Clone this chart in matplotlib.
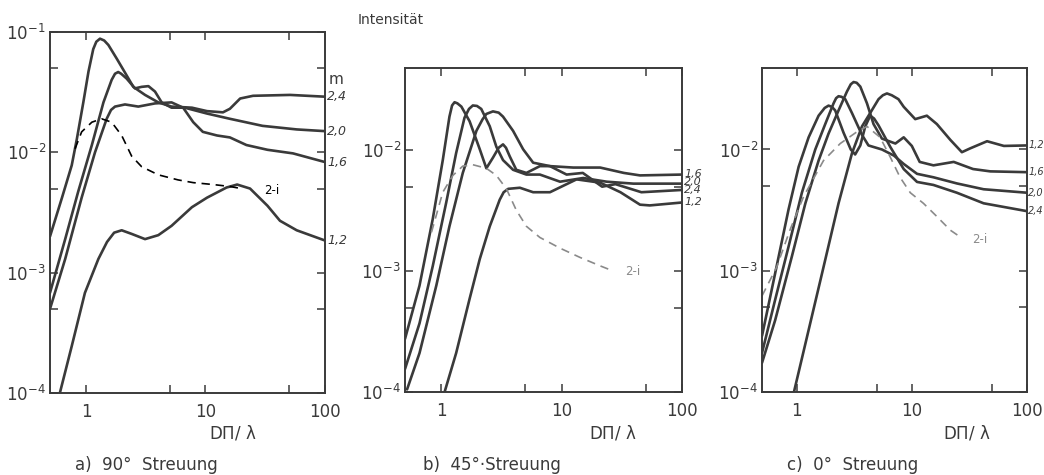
import numpy as np
import matplotlib
matplotlib.use("Agg")
import matplotlib.pyplot as plt
import matplotlib.transforms as mtransforms
from matplotlib.ticker import FixedLocator, NullFormatter

plt.rcParams['font.family'] = ['DejaVu Sans']
plt.rcParams['mathtext.default'] = 'regular'

# ---------------- a) 90 deg ----------------
a_x_24 = [0.5, 0.63, 0.76, 0.84, 0.95, 1.05, 1.15, 1.22, 1.31, 1.42, 1.54, 1.81, 2.12, 2.49, 3.12, 4.03, 5.2, 7.7, 10.3, 14, 16, 19.5, 25, 51, 100]
a_y_24 = [2.0e-3, 4.2e-3, 7.8e-3, 1.3e-2, 2.6e-2, 4.7e-2, 7.2e-2, 8.3e-2, 8.8e-2, 8.5e-2, 7.8e-2, 6.0e-2, 4.6e-2, 3.5e-2, 3.0e-2, 2.6e-2, 2.4e-2, 2.35e-2, 2.2e-2, 2.15e-2, 2.3e-2, 2.8e-2, 2.95e-2, 3.0e-2, 2.9e-2]
a_x_20 = [0.5, 0.67, 0.86, 1.12, 1.40, 1.64, 1.75, 1.86, 1.97, 2.19, 2.57, 2.92, 3.33, 3.78, 4.3, 5.2, 6.7, 10.3, 16, 30, 58, 100]
a_y_20 = [6.8e-4, 1.9e-3, 4.7e-3, 1.15e-2, 2.6e-2, 4.0e-2, 4.5e-2, 4.65e-2, 4.5e-2, 4.1e-2, 3.4e-2, 3.5e-2, 3.55e-2, 3.2e-2, 2.6e-2, 2.35e-2, 2.35e-2, 2.1e-2, 1.9e-2, 1.66e-2, 1.55e-2, 1.5e-2]
a_x_16 = [0.5, 0.67, 0.92, 1.19, 1.49, 1.62, 1.75, 2.12, 2.74, 3.78, 5.2, 6.5, 7.9, 9.5, 12.5, 16, 22, 33, 54, 100]
a_y_16 = [5.0e-4, 1.3e-3, 4.2e-3, 1.0e-2, 1.9e-2, 2.25e-2, 2.4e-2, 2.5e-2, 2.4e-2, 2.55e-2, 2.6e-2, 2.35e-2, 1.78e-2, 1.48e-2, 1.38e-2, 1.33e-2, 1.15e-2, 1.05e-2, 9.8e-3, 8.3e-3]
a_x_12 = [0.58, 0.76, 0.98, 1.27, 1.5, 1.72, 1.99, 2.41, 3.12, 4.03, 5.2, 7.7, 10.3, 15, 18.4, 23.6, 33, 42, 58, 100]
a_y_12 = [8.5e-5, 2.45e-4, 6.8e-4, 1.3e-3, 1.8e-3, 2.15e-3, 2.25e-3, 2.1e-3, 1.9e-3, 2.05e-3, 2.45e-3, 3.5e-3, 4.2e-3, 5.1e-3, 5.4e-3, 5.0e-3, 3.6e-3, 2.7e-3, 2.25e-3, 1.85e-3]
a_x_2i = [0.81, 0.92, 1.12, 1.35, 1.64, 1.99, 2.41, 2.92, 4.03, 5.9, 7.9, 11.6, 16, 20]
a_y_2i = [1.07e-2, 1.48e-2, 1.78e-2, 1.9e-2, 1.78e-2, 1.38e-2, 9.3e-3, 7.6e-3, 6.5e-3, 5.9e-3, 5.6e-3, 5.4e-3, 5.2e-3, 5.0e-3]

# ---------------- b) 45 deg ----------------
b_x_24 = [0.5, 0.66, 0.85, 1.03, 1.17, 1.23, 1.29, 1.36, 1.47, 1.72, 2.09, 2.37, 2.69, 3.0, 3.26, 3.45, 3.71, 4.2, 5.1, 6.6, 8.0, 11, 15, 21.7, 28, 46, 100]
b_y_24 = [2.75e-4, 7.6e-4, 2.7e-3, 8.3e-3, 1.9e-2, 2.35e-2, 2.5e-2, 2.45e-2, 2.3e-2, 1.74e-2, 1.02e-2, 7.1e-3, 8.7e-3, 1.05e-2, 1.12e-2, 1.05e-2, 8.9e-3, 6.9e-3, 6.5e-3, 7.4e-3, 7.4e-3, 6.3e-3, 6.5e-3, 5.0e-3, 5.25e-3, 4.5e-3, 4.7e-3]
b_x_20 = [0.5, 0.66, 0.85, 1.10, 1.33, 1.56, 1.70, 1.83, 1.98, 2.15, 2.53, 2.87, 3.26, 3.95, 5.1, 6.6, 9.7, 15.1, 23.7, 39.5, 100]
b_y_20 = [1.55e-4, 3.7e-4, 1.1e-3, 3.7e-3, 9.5e-3, 1.86e-2, 2.2e-2, 2.35e-2, 2.33e-2, 2.2e-2, 1.58e-2, 1.07e-2, 8.3e-3, 6.9e-3, 6.3e-3, 6.3e-3, 5.5e-3, 5.9e-3, 5.5e-3, 5.3e-3, 5.3e-3]
b_x_16 = [0.52, 0.66, 0.91, 1.17, 1.51, 1.96, 2.2, 2.37, 2.69, 3.0, 3.26, 3.95, 4.79, 5.8, 8.0, 12.5, 20.9, 32.9, 44.8, 100]
b_y_16 = [1.05e-4, 2.1e-4, 7.6e-4, 2.35e-3, 6.5e-3, 1.45e-2, 1.8e-2, 2.0e-2, 2.1e-2, 2.05e-2, 1.9e-2, 1.45e-2, 1.02e-2, 7.9e-3, 7.4e-3, 7.2e-3, 7.2e-3, 6.5e-3, 6.2e-3, 6.3e-3]
b_x_12 = [1.03, 1.33, 1.72, 2.09, 2.53, 3.06, 3.3, 3.6, 4.5, 5.8, 8.0, 13.3, 20.9, 30.8, 44.8, 54, 100]
b_y_12 = [8.9e-5, 2.1e-4, 5.9e-4, 1.26e-3, 2.35e-3, 3.9e-3, 4.5e-3, 4.8e-3, 4.9e-3, 4.5e-3, 4.5e-3, 5.75e-3, 5.4e-3, 4.5e-3, 3.55e-3, 3.5e-3, 3.7e-3]
b_x_2i = [0.83, 1.03, 1.25, 1.51, 1.83, 2.37, 2.87, 3.48, 4.2, 5.1, 6.6, 9.7, 14.2, 21.2, 27]
b_y_2i = [2.1e-3, 4.5e-3, 6.2e-3, 7.4e-3, 7.6e-3, 7.1e-3, 6.2e-3, 4.8e-3, 3.2e-3, 2.35e-3, 1.9e-3, 1.55e-3, 1.3e-3, 1.1e-3, 1.0e-3]

# ---------------- c) 0 deg ----------------
c_x_24 = [0.5, 0.65, 0.85, 1.04, 1.27, 1.55, 1.75, 1.89, 2.02, 2.16, 2.55, 2.95, 3.22, 3.57, 3.94, 4.35, 4.7, 5.14, 6.5, 8.5, 11.1, 15.4, 24.6, 42, 100]
c_y_24 = [2.9e-4, 9.5e-4, 3.2e-3, 7.2e-3, 1.26e-2, 1.9e-2, 2.2e-2, 2.3e-2, 2.25e-2, 2.1e-2, 1.38e-2, 1.0e-2, 9.1e-3, 1.08e-2, 1.55e-2, 1.9e-2, 1.8e-2, 1.58e-2, 1.05e-2, 6.9e-3, 5.4e-3, 5.1e-3, 4.4e-3, 3.6e-3, 3.1e-3]
c_x_20 = [0.5, 0.65, 0.85, 1.11, 1.45, 1.77, 2.09, 2.2, 2.31, 2.45, 2.64, 3.02, 3.69, 4.2, 5.5, 7.0, 8.5, 11.1, 15.4, 24.6, 42, 100]
c_y_20 = [2.1e-4, 5.75e-4, 1.58e-3, 4.4e-3, 1.0e-2, 1.62e-2, 2.4e-2, 2.65e-2, 2.75e-2, 2.72e-2, 2.6e-2, 2.0e-2, 1.32e-2, 1.08e-2, 1.0e-2, 8.9e-3, 7.6e-3, 6.3e-3, 5.9e-3, 5.25e-3, 4.7e-3, 4.4e-3]
c_x_16 = [0.5, 0.65, 0.91, 1.19, 1.55, 1.89, 2.31, 2.73, 2.95, 3.12, 3.32, 3.57, 4.08, 4.65, 5.5, 7.2, 8.5, 10, 11.7, 15.4, 23.1, 34, 48, 100]
c_y_16 = [1.74e-4, 3.9e-4, 1.32e-3, 3.6e-3, 8.1e-3, 1.35e-2, 2.1e-2, 3.0e-2, 3.45e-2, 3.6e-2, 3.55e-2, 3.3e-2, 2.4e-2, 1.62e-2, 1.23e-2, 1.12e-2, 1.26e-2, 1.07e-2, 7.9e-3, 7.4e-3, 7.9e-3, 6.9e-3, 6.6e-3, 6.5e-3]
c_x_12 = [0.92, 1.66, 2.31, 3.02, 3.69, 4.35, 5.14, 5.6, 6.08, 6.7, 7.65, 8.5, 10.7, 13.5, 16.5, 21.6, 27.2, 32, 45, 63, 100]
c_y_12 = [8.9e-5, 9.5e-4, 3.6e-3, 9.3e-3, 1.55e-2, 2.0e-2, 2.6e-2, 2.8e-2, 2.9e-2, 2.8e-2, 2.6e-2, 2.25e-2, 1.78e-2, 1.9e-2, 1.62e-2, 1.2e-2, 9.5e-3, 1.02e-2, 1.17e-2, 1.07e-2, 1.08e-2]
c_x_2i = [0.5, 0.67, 0.88, 1.15, 1.71, 2.39, 3.34, 4.08, 5.3, 6.48, 7.9, 9.7, 12.6, 16.5, 21.6, 26.3]
c_y_2i = [6.2e-4, 1.07e-3, 2.2e-3, 4.1e-3, 8.1e-3, 1.12e-2, 1.4e-2, 1.55e-2, 1.26e-2, 8.7e-3, 5.9e-3, 4.4e-3, 3.6e-3, 2.8e-3, 2.16e-3, 1.9e-3]

m_labels = ['2,4', '2,0', '1,6', '1,2']
captions = ['a)  90°  Streuung', 'b)  45°·Streuung', 'c)  0°  Streuung']

W, H = 1044, 475
fig = plt.figure(figsize=(W / 100, H / 100), dpi=100)

# axes boxes in pixels: left, top, right, bottom
boxes = [(50, 32, 325, 393), (405, 68, 682, 392), (762, 68, 1027, 392)]
ytops = [1e-1, 4.8e-2, 4.7e-2]

panels = [
    ([(a_x_24, a_y_24), (a_x_20, a_y_20), (a_x_16, a_y_16), (a_x_12, a_y_12)], (a_x_2i, a_y_2i), 'black'),
    ([(b_x_24, b_y_24), (b_x_20, b_y_20), (b_x_16, b_y_16), (b_x_12, b_y_12)], (b_x_2i, b_y_2i), '#8a8a8a'),
    ([(c_x_24, c_y_24), (c_x_20, c_y_20), (c_x_16, c_y_16), (c_x_12, c_y_12)], (c_x_2i, c_y_2i), '#8a8a8a'),
]
# right-hand label y positions, stacked like in the print
label_y = [
    [2.9e-2, 1.5e-2, 8.3e-3, 1.85e-3],
    [4.7e-3, 5.5e-3, 6.4e-3, 3.7e-3],
    [3.1e-3, 4.4e-3, 6.5e-3, 1.08e-2],
]
label_fs = [9, 8, 7]
twoi_pos = [(36, 4.8e-3), (39, 1.0e-3), (39, 1.8e-3)]

ink = '#3a3a3a'
for k, (l, t, r, b) in enumerate(boxes):
    ax = fig.add_axes([l / W, 1 - b / H, (r - l) / W, (b - t) / H])
    ax.set_xscale('log')
    ax.set_yscale('log')
    ax.set_xlim(0.5, 100)
    ax.set_ylim(1e-4, ytops[k])
    curves, dashed, dcol = panels[k]
    for xs, ys in curves:
        ax.plot(xs, ys, color=ink, lw=1.9, solid_capstyle='round', solid_joinstyle='round')
    ax.plot(dashed[0], dashed[1], color=dcol, lw=1.2, ls=(0, (5, 3.5)))
    ax.text(twoi_pos[k][0], twoi_pos[k][1], '2-i', color=dcol, fontsize=8.5, va='center', ha='center')

    trans = mtransforms.blended_transform_factory(ax.transAxes, ax.transData)
    xoff = 1.008 if k < 2 else 1.004
    for lab, yv in zip(m_labels, label_y[k]):
        ax.text(xoff, yv, lab, transform=trans, fontsize=label_fs[k], style='italic', va='center', ha='left', color=ink)
    if k == 0:
        ax.text(1.012, 4.0e-2, 'm', transform=trans, fontsize=11, va='center', ha='left', color=ink)

    ax.xaxis.set_major_locator(FixedLocator([1, 10, 100]))
    ax.xaxis.set_minor_locator(FixedLocator([5, 50]))
    ax.xaxis.set_minor_formatter(NullFormatter())
    ax.set_xticklabels(['1', '10', '100'])
    if k == 0:
        yt = [1e-4, 1e-3, 1e-2, 1e-1]
        ylabs = [r'$10^{-4}$', r'$10^{-3}$', r'$10^{-2}$', r'$10^{-1}$']
        ym = [5e-4, 5e-3, 5e-2]
    else:
        yt = [1e-4, 1e-3, 1e-2]
        ylabs = [r'$10^{-4}$', r'$10^{-3}$', r'$10^{-2}$']
        ym = [5e-4, 5e-3]
    ax.yaxis.set_major_locator(FixedLocator(yt))
    ax.set_yticklabels(ylabs)
    ax.yaxis.set_minor_locator(FixedLocator(ym))
    ax.yaxis.set_minor_formatter(NullFormatter())
    ax.tick_params(which='both', direction='in', top=True, right=True, length=6, width=1.1, color=ink,
                   labelsize=12, labelcolor=ink)
    ax.tick_params(axis='x', which='major', pad=7)
    ax.tick_params(axis='y', which='major', pad=3)
    for s in ax.spines.values():
        s.set_linewidth(1.4)
        s.set_color(ink)

# x axis labels and captions
xl_pos = [233, 613, 967]
cap_pos = [75, 423, 787]
for k in range(3):
    fig.text(xl_pos[k] / W, 1 - 433 / H, r'D$\mathrm{\Pi}$/ λ', fontsize=12, ha='center', va='center', color=ink)
    fig.text(cap_pos[k] / W, 1 - 465 / H, captions[k], fontsize=12, ha='left', va='center', color=ink)

fig.text(358 / W, 1 - 20 / H, 'Intensität', fontsize=10, ha='left', va='center', color=ink)

fig.savefig('out.png', dpi=100, facecolor='white')
